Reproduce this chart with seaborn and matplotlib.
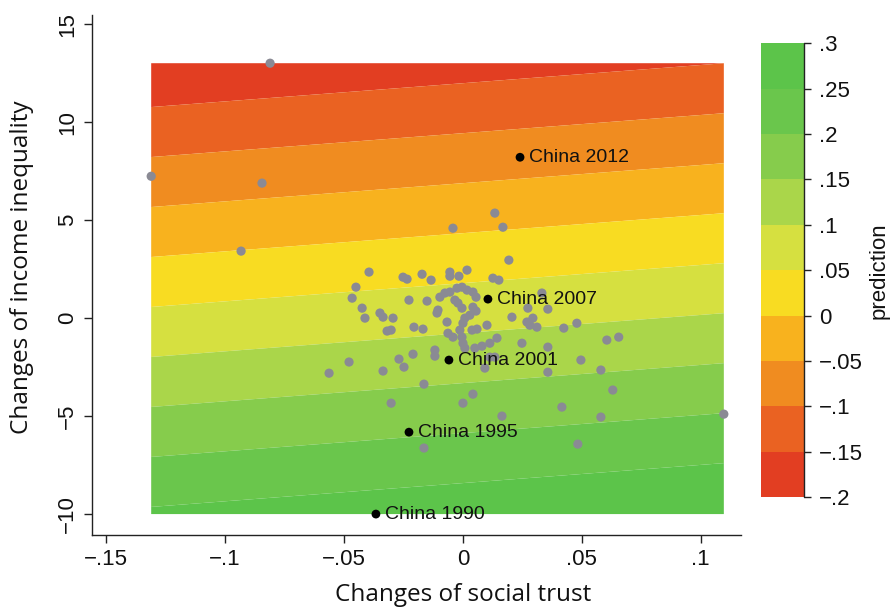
import numpy as np
import pandas as pd
import matplotlib
matplotlib.use("Agg")
import matplotlib.pyplot as plt
from matplotlib.colors import ListedColormap, BoundaryNorm
import seaborn as sns

# ---------------- data ----------------
trust = [
    -0.0811, -0.1311, -0.0845, -0.0933, 0.1097, 0.0134, 0.0168, -0.0042, 0.0193,
    -0.0395, -0.0252, -0.0235, -0.0172, -0.0134, -0.0055, -0.0055, -0.0017, 0.0017, 0.0126, 0.0151, -0.0450,
    -0.0466, -0.0424, -0.0412, -0.0349, -0.0336, -0.0294, -0.0227, -0.0151, -0.0097, -0.0076,
    -0.0055, -0.0025, -0.0004, 0.0017, 0.0042, 0.0055, -0.0034, -0.0021, -0.0004, -0.0105,
    -0.0109, 0.0042, 0.0055, 0.0029, 0.0008, 0.0206, 0.0273, 0.0332, 0.0357, 0.0294,
    -0.0067, 0.0000, 0.0269, 0.0311, 0.0281, 0.0101, 0.0059, 0.0424, 0.0479, -0.0319,
    -0.0302, -0.0206, -0.0168, -0.0063, -0.0042, -0.0013, -0.0004, 0.0038, 0.0605, 0.0655,
    0.0248, 0.0357, 0.0143, 0.0113, 0.0080, 0.0050, 0.0000, 0.0008,
    -0.0210, -0.0118, -0.0118, -0.0269, -0.0248, -0.0479, -0.0563, -0.0336, 0.0092, 0.0113,
    0.0134, 0.0357, 0.0496, 0.0580,
    -0.0164, 0.0042, 0.0000, -0.0302, 0.0164, 0.0416, 0.0630, 0.0580, -0.0164, 0.0483,
]
inequality = [
    13.01, 7.24, 6.89, 3.42, -4.90, 5.36, 4.64, 4.59, 2.96,
    2.35, 2.09, 1.99, 2.24, 1.94, 2.35, 2.14, 2.14, 2.45, 2.04, 1.94, 1.58,
    1.02, 0.51, 0.00, 0.26, 0.05, 0.00, 0.92, 0.87, 1.07, 1.28,
    1.33, 1.53, 1.58, 1.43, 1.33, 1.07, 0.92, 0.77, 0.51, 0.41,
    0.26, 0.56, 0.36, 0.15, 0.00, 0.05, 0.51, 1.28, 0.46, 0.00,
    -0.20, -0.26, -0.20, -0.46, -0.36, -0.36, -0.56, -0.51, -0.26, -0.66,
    -0.61, -0.46, -0.56, -0.77, -0.97, -0.61, -0.97, -0.61, -1.12, -0.97,
    -1.28, -1.48, -1.02, -1.28, -1.43, -1.53, -1.28, -1.53,
    -1.84, -1.63, -1.94, -2.09, -2.50, -2.24, -2.81, -2.70, -2.55, -1.99,
    -1.99, -2.76, -2.14, -2.65,
    -3.37, -3.88, -4.34, -4.34, -5.00, -4.54, -3.67, -5.05, -6.63, -6.43,
]

china_labels = ["China 2012", "China 2007", "China 2001", "China 1995", "China 1990"]
china_trust = [0.0240, 0.0105, -0.0059, -0.0227, -0.0366]
china_ineq = [8.21, 0.97, -2.14, -5.82, -10.00]

# linear prediction surface: pred = b0 + b_trust*trust + b_ineq*inequality
b0, b_trust, b_ineq = 0.085, 0.182, -0.0196

levels = [-0.2, -0.15, -0.1, -0.05, 0.0, 0.05, 0.1, 0.15, 0.2, 0.25, 0.3]
level_colors = ["#E23E22", "#EA6222", "#F08C20", "#F8B21E", "#F8DC22",
                "#D6E040", "#AAD64A", "#86CC4C", "#6AC64C", "#5CC44A"]

xticks = [-0.15, -0.1, -0.05, 0, 0.05, 0.1]
xtick_labels = ["\u2212.15", "\u2212.1", "\u2212.05", "0", ".05", ".1"]
yticks = [-10, -5, 0, 5, 10, 15]
ytick_labels = ["\u221210", "\u22125", "0", "5", "10", "15"]
cb_tick_labels = ["\u2212.2", "\u2212.15", "\u2212.1", "\u2212.05", "0",
                  ".05", ".1", ".15", ".2", ".25", ".3"]

# ---------------- plot ----------------
sns.set_theme(style="white")
plt.rcParams["font.family"] = ["Liberation Sans", "DejaVu Sans"]

fig = plt.figure(figsize=(8.93, 6.08), dpi=100)
ax = fig.add_axes([0.103, 0.120, 0.727, 0.855])
cax = fig.add_axes([0.852, 0.1826, 0.048, 0.746])

all_x = np.array(trust + china_trust)
all_y = np.array(inequality + china_ineq)
gx = np.linspace(all_x.min(), all_x.max(), 300)
gy = np.linspace(all_y.min(), all_y.max(), 300)
GX, GY = np.meshgrid(gx, gy)
Z = b0 + b_trust * GX + b_ineq * GY
Z = np.clip(Z, levels[0] + 1e-6, levels[-1] - 1e-6)

cmap = ListedColormap(level_colors)
norm = BoundaryNorm(levels, cmap.N)
cf = ax.contourf(GX, GY, Z, levels=levels, cmap=cmap, norm=norm, antialiased=True)

df = pd.DataFrame({"trust": trust, "inequality": inequality})
sns.scatterplot(data=df, x="trust", y="inequality", ax=ax, color="#8a8a94",
                s=44, edgecolor="none", linewidth=0, zorder=3)
cdf = pd.DataFrame({"trust": china_trust, "inequality": china_ineq, "label": china_labels})
sns.scatterplot(data=cdf, x="trust", y="inequality", ax=ax, color="black",
                s=40, edgecolor="none", linewidth=0, zorder=4)
for _, r in cdf.iterrows():
    ax.annotate(r["label"], (r["trust"], r["inequality"]), xytext=(6.5, 0),
                textcoords="offset points", va="center", ha="left",
                fontsize=14, color="#111111", zorder=5)

ax.set_xlim(-0.156, 0.117)
ax.set_ylim(-11.07, 15.46)
ax.set_xticks(xticks)
ax.set_xticklabels(xtick_labels, fontsize=16)
ax.set_yticks(yticks)
ax.set_yticklabels(ytick_labels, fontsize=16, rotation=90, va="center")
for s in ["top", "right"]:
    ax.spines[s].set_visible(False)
for s in ["left", "bottom"]:
    ax.spines[s].set_color("#222222")
    ax.spines[s].set_linewidth(1.0)
ax.tick_params(axis="both", which="both", direction="out", length=6, width=1,
               color="#222222", left=True, bottom=True, pad=4, labelcolor="#111111")
ax.set_xlabel("Changes of social trust", fontsize=17.5, family=["Open Sans", "DejaVu Sans"],
              color="#111111", va="bottom")
ax.set_ylabel("Changes of income inequality", fontsize=17.5, family=["Open Sans", "DejaVu Sans"],
              color="#111111", va="center")
ax.xaxis.set_label_coords(0.572, -0.139)
ax.yaxis.set_label_coords(-0.108, 0.515)
ax.set_facecolor("white")

cb = fig.colorbar(cf, cax=cax, ticks=levels)
cb.outline.set_visible(False)
cax.plot([1, 1], [0, 1], transform=cax.transAxes, color="#222222", lw=1, clip_on=False)
cb.ax.set_yticklabels(cb_tick_labels, fontsize=16, color="#111111")
cb.ax.tick_params(direction="out", length=5, width=1, color="#222222", right=True, pad=6)
cb.set_label("prediction", fontsize=16, color="#111111", labelpad=4)

fig.savefig("out.png", dpi=100, facecolor="white")
